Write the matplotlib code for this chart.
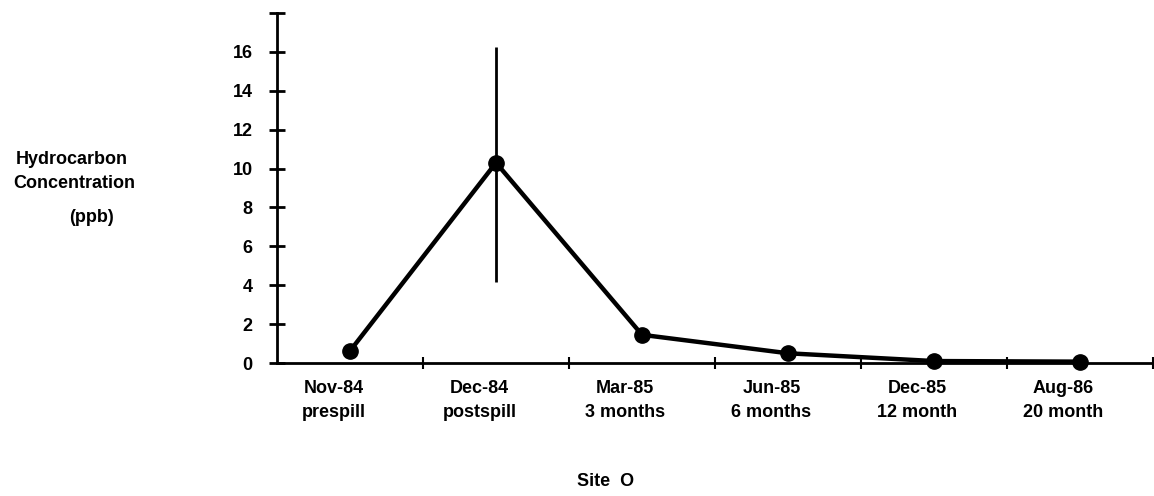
import numpy as np
import matplotlib.pyplot as plt
from matplotlib.transforms import ScaledTranslation

plt.rcParams['font.family'] = ['Liberation Sans', 'DejaVu Sans']

dates = ["Nov-84", "Dec-84", "Mar-85", "Jun-85", "Dec-85", "Aug-86"]
stages = ["prespill", "postspill", "3 months", "6 months", "12 month", "20 month"]
conc = [0.62, 10.3, 1.45, 0.5, 0.1, 0.07]
err_low = [0, 4.17, 0, 0, 0, 0]
err_high = [0, 16.25, 0, 0, 0, 0]

x = np.arange(len(dates))
conc = np.array(conc)
lo = conc - np.array(err_low)
hi = np.array(err_high) - conc
lo[hi <= 0] = 0
hi[hi <= 0] = 0

W, H = 1154, 496
fig = plt.figure(figsize=(W / 100, H / 100), dpi=100)
ax = fig.add_axes([277 / W, 1 - 363 / H, (1153 - 277) / W, (363 - 13) / H])

ax.plot(x, conc, color='black', lw=3.2, marker='o', ms=11, zorder=3, clip_on=False)
ax.errorbar(x[1], conc[1], yerr=[[lo[1]], [hi[1]]], fmt='none', ecolor='black',
            elinewidth=2, capsize=0, zorder=2)

ax.set_xlim(-0.5, 5.5)
ax.set_ylim(0, 18)

for s in ['top', 'right']:
    ax.spines[s].set_visible(False)
for s in ['left', 'bottom']:
    ax.spines[s].set_linewidth(2)

# y axis: tick every 2, unlabeled tick at the top
ax.set_yticks(np.arange(0, 19, 2))
ax.set_yticklabels([str(v) for v in range(0, 17, 2)] + [''])
ax.tick_params(axis='y', direction='inout', length=11, width=2, pad=12,
               labelsize=13)
for t in ax.get_yticklabels():
    t.set_fontweight('bold')

# x axis: tick marks between groups, labels under groups
ax.set_xticks(np.arange(0.5, 6, 1))
ax.set_xticklabels([])
ax.tick_params(axis='x', which='major', direction='inout', length=8, width=1.5)
ax.set_xticks(x, minor=True)
ax.set_xticklabels([f"{d}\n{s}" for d, s in zip(dates, stages)], minor=True,
                   fontsize=13, fontweight='bold', linespacing=1.55)
ax.tick_params(axis='x', which='minor', length=0, pad=12)
shift = ScaledTranslation(-12 / 72, 0, fig.dpi_scale_trans)
for t in ax.get_xticklabels(minor=True):
    t.set_transform(t.get_transform() + shift)

fig.text(72 / W, 1 - 160 / H, "Hydrocarbon", ha='center', va='center',
         fontsize=13, fontweight='bold')
fig.text(74 / W, 1 - 184 / H, "Concentration", ha='center', va='center',
         fontsize=13, fontweight='bold')
fig.text(92 / W, 1 - 217 / H, "(ppb)", ha='center', va='center',
         fontsize=13, fontweight='bold')

fig.text(606 / W, 1 - 482 / H, "Site  O", ha='center', va='center',
         fontsize=13, fontweight='bold')

fig.savefig("out.png", dpi=100)
